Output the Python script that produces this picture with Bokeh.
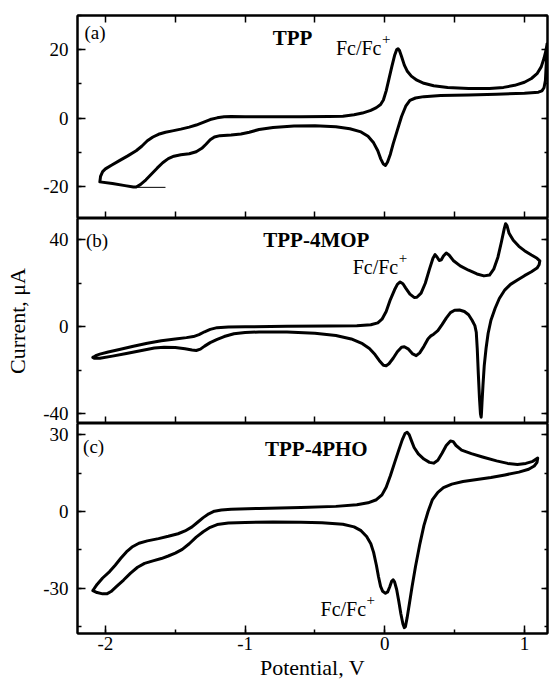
from bokeh.plotting import figure
from bokeh.layouts import column
from bokeh.models import (LinearAxis, SingleIntervalTicker, Range1d, Label,
                          NumeralTickFormatter)
from bokeh.embed import file_html
from bokeh.resources import INLINE

# ---------------- data: cyclic voltammograms (potential in V, current in uA) ----------------
# TPP: forward (anodic) sweep, then reverse sweep back to the start
tpp_v = [-2.04, -2.035, -2.02, -2.0, -1.96, -1.9, -1.84, -1.78, -1.74, -1.70, -1.66,
         -1.62, -1.57, -1.52, -1.46, -1.40, -1.35, -1.30, -1.25, -1.20, -1.15, -1.10,
         -1.0, -0.8, -0.6, -0.4, -0.3, -0.22, -0.16, -0.10, -0.06, -0.03, -0.01, 0.01,
         0.03, 0.05, 0.07, 0.085, 0.095, 0.105, 0.12, 0.14, 0.16, 0.19, 0.23, 0.28,
         0.35, 0.45, 0.6, 0.75, 0.85, 0.93, 1.0, 1.05, 1.09, 1.12, 1.14, 1.155, 1.162,
         1.16, 1.155, 1.15, 1.14, 1.125, 1.1, 1.0, 0.8, 0.6, 0.4, 0.28, 0.22, 0.18,
         0.15, 0.12, 0.09, 0.06, 0.04, 0.02, 0.005, -0.01, -0.03, -0.05, -0.08, -0.12,
         -0.17, -0.25, -0.35, -0.5, -0.65, -0.8, -0.9, -0.97, -1.03, -1.1, -1.18, -1.22,
         -1.25, -1.28, -1.31, -1.35, -1.40, -1.46, -1.51, -1.55, -1.59, -1.63, -1.67,
         -1.71, -1.75, -1.78, -1.80, -1.86, -1.95, -2.04]
tpp_i = [-18.6, -17.0, -15.6, -14.8, -13.8, -12.4, -11.0, -9.5, -8.2, -6.6, -5.5,
         -4.7, -4.1, -3.7, -3.2, -2.6, -2.0, -1.2, -0.4, 0.1, 0.4, 0.5,
         0.4, 0.4, 0.4, 0.5, 0.6, 1.0, 1.5, 2.3, 3.1, 4.0, 5.3, 8.0,
         11.5, 15.0, 18.3, 20.0, 20.3, 19.8, 18.0, 15.5, 13.8, 12.3, 11.1, 10.2,
         9.5, 9.0, 8.7, 8.7, 9.0, 9.6, 10.5, 11.6, 13.0, 15.0, 17.5, 20.0, 21.7,
         19.0, 15.0, 11.0, 8.9, 8.0, 7.6, 7.3, 7.0, 6.8, 6.6, 6.3, 5.9, 5.2,
         3.5, 0.5, -3.5, -7.5, -10.5, -12.8, -13.8, -13.4, -11.8, -9.5, -7.2, -5.3,
         -4.0, -3.1, -2.5, -2.2, -2.3, -2.7, -3.3, -4.1, -4.6, -4.9, -5.1, -5.5,
         -6.3, -7.6, -8.8, -9.8, -10.4, -10.7, -11.1, -11.8, -13.0, -14.6, -16.3,
         -18.0, -19.4, -20.1, -20.1, -19.7, -19.1, -18.6]
# baseline drawn under the first reduction wave
tpp_base_v = [-1.78, -1.57]
tpp_base_i = [-20.2, -20.2]

# TPP-4MOP
mop_v = [-2.09, -2.07, -2.04, -1.98, -1.9, -1.8, -1.7, -1.6, -1.5, -1.42, -1.37,
         -1.33, -1.29, -1.25, -1.2, -1.12, -1.0, -0.7, -0.4, -0.2, -0.1, -0.05,
         -0.02, 0.01, 0.04, 0.07, 0.09, 0.11, 0.13, 0.15, 0.18, 0.21, 0.23, 0.26,
         0.29, 0.32, 0.345, 0.36, 0.375, 0.39, 0.405, 0.42, 0.44, 0.46, 0.49, 0.54,
         0.6, 0.66, 0.71, 0.75, 0.78, 0.81, 0.835, 0.855, 0.865, 0.875, 0.89, 0.92,
         0.96, 1.0, 1.05, 1.09, 1.11,
         1.105, 1.09, 1.05, 1.0, 0.95, 0.9, 0.86, 0.82, 0.79, 0.76, 0.74, 0.725,
         0.712, 0.703, 0.696, 0.692, 0.69, 0.685, 0.678, 0.67, 0.662, 0.655, 0.645,
         0.625, 0.6, 0.57, 0.535, 0.5, 0.47, 0.44, 0.41, 0.38, 0.35, 0.33, 0.31,
         0.28, 0.25, 0.225, 0.2, 0.17, 0.14, 0.12, 0.09, 0.06, 0.03, 0.01, -0.01,
         -0.04, -0.07, -0.11, -0.16, -0.24, -0.35, -0.5, -0.7, -0.9, -1.0, -1.08,
         -1.15, -1.2, -1.25, -1.29, -1.32, -1.35, -1.38, -1.43, -1.5, -1.58, -1.65,
         -1.75, -1.85, -1.95, -2.04, -2.08, -2.09]
mop_i = [-14.1, -13.3, -12.6, -11.6, -10.5, -9.0, -7.6, -6.4, -5.6, -5.0, -4.5,
         -3.6, -2.3, -1.2, -0.4, -0.1, 0.0, 0.2, 0.3, 0.5, 0.9, 1.8,
         3.5, 7.0, 12.5, 17.0, 19.5, 20.6, 19.8, 17.8, 15.0, 13.5, 13.6, 15.5,
         20.0, 26.5, 31.5, 33.2, 32.0, 30.5, 30.8, 32.5, 33.9, 33.0, 30.5, 28.0,
         26.0, 24.3, 23.4, 23.8, 26.5, 32.0, 39.0, 45.0, 47.4, 46.5, 43.0, 39.8,
         37.0, 35.0, 33.0, 31.5, 30.3,
         28.5, 27.0, 25.3, 23.5, 21.5, 19.5, 17.0, 13.0, 8.5, 3.0, -3.0, -10.0,
         -18.0, -27.0, -35.0, -40.0, -41.6, -40.0, -33.0, -22.0, -10.0, -2.5, 0.5,
         3.0, 5.5, 7.0, 7.7, 7.6, 6.5, 4.0, 1.0, -1.8, -3.4, -4.2, -5.5,
         -9.0, -12.0, -13.3, -12.5, -10.3, -9.2, -9.4, -11.5, -14.5, -17.0, -17.9, -17.7,
         -15.5, -12.8, -10.0, -7.8, -5.6, -4.0, -3.0, -2.4, -2.4, -2.6, -3.2,
         -4.5, -5.8, -7.3, -8.9, -10.3, -10.9, -10.7, -10.1, -9.5, -9.4, -9.8,
         -11.0, -12.3, -13.5, -14.5, -14.5, -14.1]

# TPP-4PHO
pho_v = [-2.09, -2.06, -2.02, -1.97, -1.93, -1.89, -1.85, -1.81, -1.76, -1.70, -1.62,
         -1.55, -1.48, -1.43, -1.38, -1.34, -1.30, -1.26, -1.22, -1.17, -1.1, -0.9,
         -0.6, -0.35, -0.2, -0.12, -0.06, -0.02, 0.01, 0.04, 0.07, 0.10, 0.125, 0.145,
         0.16, 0.175, 0.19, 0.21, 0.24, 0.28, 0.32, 0.35, 0.38, 0.41, 0.44, 0.47,
         0.49, 0.51, 0.55, 0.62, 0.7, 0.8, 0.88, 0.95, 1.01, 1.06, 1.095,
         1.09, 1.07, 1.03, 0.96, 0.86, 0.76, 0.66, 0.56, 0.48, 0.42, 0.38, 0.34,
         0.31, 0.28, 0.25, 0.22, 0.195, 0.175, 0.16, 0.148, 0.14, 0.13, 0.115, 0.1,
         0.085, 0.07, 0.06, 0.05, 0.035, 0.02, 0.005, -0.015, -0.03, -0.045, -0.06,
         -0.08, -0.1, -0.13, -0.17, -0.22, -0.3, -0.45, -0.6, -0.8, -1.0, -1.12,
         -1.2, -1.25, -1.3, -1.35, -1.4, -1.45, -1.5, -1.55, -1.6, -1.66, -1.72,
         -1.77, -1.82, -1.87, -1.92, -1.96, -1.99, -2.02, -2.06, -2.09]
pho_i = [-30.9, -28.5, -26.0, -23.5, -21.0, -18.3, -15.8, -13.9, -12.4, -11.5, -10.6,
         -9.7, -8.7, -7.6, -6.0, -4.2, -2.4, -0.9, 0.1, 0.6, 0.9, 1.2,
         1.6, 2.0, 2.6, 3.4, 4.6, 6.5, 9.5, 14.0, 19.0, 24.0, 28.0, 30.5,
         31.0, 30.0, 27.8, 25.0, 22.5, 20.5, 19.2, 18.9, 20.0, 22.8, 25.8, 27.6,
         27.3, 25.8, 24.0, 22.6, 21.3, 19.8, 18.8, 18.4, 18.8, 19.6, 20.9,
         19.2, 17.8, 16.5, 15.4, 14.3, 13.3, 12.5, 11.7, 10.7, 9.3, 7.5, 4.5,
         0.0, -5.5, -13.0, -21.5, -29.5, -36.5, -41.5, -45.0, -45.4, -44.0, -40.0, -35.0,
         -30.5, -27.5, -26.7, -27.2, -29.5, -31.5, -32.0, -31.2, -29.3, -25.5, -21.0,
         -16.0, -12.6, -9.8, -7.5, -6.0, -5.0, -4.4, -4.2, -4.1, -4.3, -4.5,
         -5.1, -6.2, -7.9, -10.0, -12.6, -14.8, -16.3, -17.4, -18.4, -19.3, -20.3,
         -21.8, -24.1, -26.8, -29.3, -31.3, -32.2, -32.2, -31.7, -30.9]

panel_letters = ["(a)", "(b)", "(c)"]
compound_names = ["TPP", "TPP-4MOP", "TPP-4PHO"]
x_label = "Potential, V"
y_label = "Current, \u03bcA"

SERIF = "Liberation Serif"
X_RANGE = (-2.2, 1.165)
FRAME_W = 470


def style_axis(ax, interval, minor, major_in, minor_in, labels=True):
    ax.ticker = SingleIntervalTicker(interval=interval, num_minor_ticks=minor)
    ax.formatter = NumeralTickFormatter(format="0")
    ax.major_tick_in = major_in
    ax.major_tick_out = 0
    ax.minor_tick_in = minor_in
    ax.minor_tick_out = 0
    ax.axis_line_width = 2
    ax.axis_line_color = "black"
    ax.major_tick_line_width = 1.5
    ax.minor_tick_line_width = 1.5
    ax.major_tick_line_color = "black"
    ax.minor_tick_line_color = "black"
    ax.major_label_text_font = SERIF
    if labels:
        ax.major_label_text_color = "black"
        ax.major_label_text_font_size = "19px"
        ax.major_label_standoff = 9
    else:
        # tick marks only: the labels are switched off entirely
        ax.major_label_text_color = None
        ax.major_label_text_alpha = 0
        ax.major_label_text_font_size = "0px"
        ax.major_label_standoff = 0


def make_panel(y_lo, y_hi, frame_h, y_interval, border_top, border_bottom, last):
    p = figure(frame_width=FRAME_W, frame_height=frame_h,
               x_range=Range1d(*X_RANGE), y_range=Range1d(y_lo, y_hi),
               output_backend="svg", toolbar_location=None,
               min_border_left=77, min_border_right=2,
               min_border_top=border_top, min_border_bottom=border_bottom,
               background_fill_color="white", border_fill_color="white")
    p.xgrid.visible = False
    p.ygrid.visible = False
    p.outline_line_color = "black"
    p.outline_line_width = 2

    style_axis(p.yaxis[0], y_interval, 2, 8, 4, labels=True)
    right = LinearAxis()
    style_axis(right, y_interval, 2, 6, 3, labels=False)
    p.add_layout(right, "right")

    if last:
        style_axis(p.xaxis[0], 1, 2, 8, 4, labels=True)
        p.xaxis[0].major_label_standoff = 3
        p.xaxis[0].axis_label = x_label
        p.xaxis[0].axis_label_text_font = SERIF
        p.xaxis[0].axis_label_text_font_size = "22px"
        p.xaxis[0].axis_label_text_font_style = "normal"
        p.xaxis[0].axis_label_text_color = "black"
        p.xaxis[0].axis_label_standoff = 2
    else:
        style_axis(p.xaxis[0], 0.5, 0, 7, 0, labels=False)
    return p


def add_text(p, x, y, text, size, bold=False, align="left", y_offset=0, x_offset=0):
    p.add_layout(Label(x=x, y=y, text=text, text_font=SERIF, text_font_size=size,
                       text_font_style="bold" if bold else "normal",
                       text_align=align, text_baseline="middle", text_color="black",
                       x_offset=x_offset, y_offset=y_offset))


def add_fc(p, x, y):
    # "Fc/Fc" with a raised "+"
    add_text(p, x, y, "Fc/Fc", "20px")
    add_text(p, x, y, "+", "15px", x_offset=46, y_offset=9)


def draw_cv(p, v, i):
    p.line(v, i, line_width=3, line_color="black", line_join="round", line_cap="round")


# ---- panel (a) TPP ----
pa = make_panel(-29.3, 30.0, 203, 20, 15, 0, False)
top = LinearAxis()
style_axis(top, 0.5, 0, 7, 0, labels=False)
pa.add_layout(top, "above")
draw_cv(pa, tpp_v, tpp_i)
pa.line(tpp_base_v, tpp_base_i, line_width=1, line_color="black")
add_text(pa, -2.15, 25.1, panel_letters[0], "19px")
add_text(pa, -0.66, 23.3, compound_names[0], "21px", bold=True, align="center")
add_fc(pa, -0.35, 20.5)

# ---- panel (b) TPP-4MOP ----
pb = make_panel(-44.5, 49.8, 205, 40, 0, 0, False)
pb.yaxis[0].axis_label = y_label
pb.yaxis[0].axis_label_text_font = SERIF
pb.yaxis[0].axis_label_text_font_size = "22px"
pb.yaxis[0].axis_label_text_font_style = "normal"
pb.yaxis[0].axis_label_text_color = "black"
pb.yaxis[0].axis_label_standoff = 10
draw_cv(pb, mop_v, mop_i)
add_text(pb, -2.14, 39.7, panel_letters[1], "19px")
add_text(pb, -0.49, 39.7, compound_names[1], "21px", bold=True, align="center")
add_fc(pb, -0.23, 27.5)

# ---- panel (c) TPP-4PHO ----
pc = make_panel(-47.7, 34.4, 210, 30, 0, 47, True)
draw_cv(pc, pho_v, pho_i)
add_text(pc, -2.16, 25.4, panel_letters[2], "19px")
add_text(pc, -0.49, 24.5, compound_names[2], "21px", bold=True, align="center")
add_fc(pc, -0.46, -38.0)

layout = column(pa, pb, pc, spacing=0)
open("out.html", "w").write(file_html(layout, INLINE))
